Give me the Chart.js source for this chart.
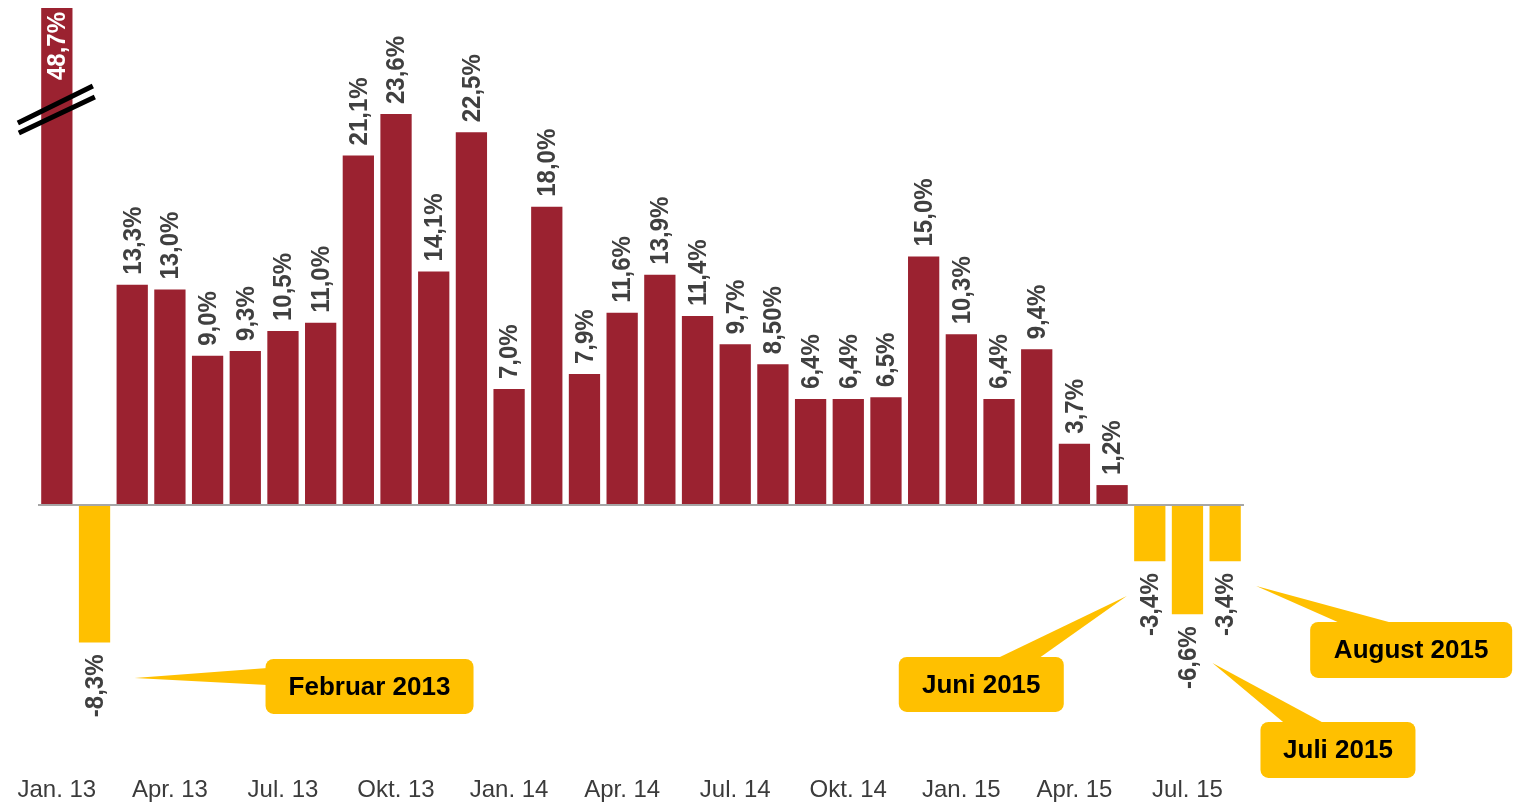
<!DOCTYPE html>
<html lang="de">
<head>
    <meta charset="UTF-8">
    <title>Veränderung zum Vorjahresmonat</title>
    <script src="https://cdn.jsdelivr.net/npm/chart.js"></script>
    <style>
        body { margin: 0; background: #fff; }
        #wrap { width: 1516px; height: 805px; }
    </style>
</head>
<body>
    <div id="wrap"><canvas id="chart" width="1516" height="805"></canvas></div>

    <script>
        // monthly categories, Jan. 13 - Aug. 15
        const months = [
            'Jan. 13', 'Feb. 13', 'Mär. 13', 'Apr. 13', 'Mai 13', 'Jun. 13', 'Jul. 13', 'Aug. 13', 'Sep. 13', 'Okt. 13', 'Nov. 13', 'Dez. 13',
            'Jan. 14', 'Feb. 14', 'Mär. 14', 'Apr. 14', 'Mai 14', 'Jun. 14', 'Jul. 14', 'Aug. 14', 'Sep. 14', 'Okt. 14', 'Nov. 14', 'Dez. 14',
            'Jan. 15', 'Feb. 15', 'Mär. 15', 'Apr. 15', 'Mai 15', 'Jun. 15', 'Jul. 15', 'Aug. 15'
        ];

        // change vs. previous year in %
        const changes = [
            48.7, -8.3, 13.3, 13.0, 9.0, 9.3, 10.5, 11.0, 21.1, 23.6, 14.1, 22.5,
            7.0, 18.0, 7.9, 11.6, 13.9, 11.4, 9.7, 8.50, 6.4, 6.4, 6.5, 15.0,
            10.3, 6.4, 9.4, 3.7, 1.2, -3.4, -6.6, -3.4
        ];

        // only every third month gets an axis label
        const tickMonths = ['Jan. 13', 'Apr. 13', 'Jul. 13', 'Okt. 13', 'Jan. 14', 'Apr. 14', 'Jul. 14', 'Okt. 14', 'Jan. 15', 'Apr. 15', 'Jul. 15'];

        // callouts for the negative months
        const calloutMonths = ['Feb. 13', 'Jun. 15', 'Jul. 15', 'Aug. 15'];
        const calloutTexts = ['Februar 2013', 'Juni 2015', 'Juli 2015', 'August 2015'];

        const valueLabels = changes.map(v => v.toFixed(1).replace('.', ',') + '%');
        valueLabels[19] = '8,50%';

        const RED = '#9b2230';
        const YELLOW = '#ffc000';
        const FONT = '"Liberation Sans", Arial, sans-serif';

        // value labels, rotated, above / below the bars
        const valueLabelPlugin = {
            id: 'valueLabels',
            afterDatasetsDraw(chart) {
                const ctx = chart.ctx;
                const area = chart.chartArea;
                const meta = chart.getDatasetMeta(0);
                ctx.save();
                ctx.font = 'bold 24px ' + FONT;
                ctx.textBaseline = 'middle';
                meta.data.forEach((bar, i) => {
                    const v = changes[i];
                    let y, align, color = '#404040';
                    if (bar.y < area.top) {
                        y = area.top + 4; align = 'right'; color = '#ffffff';
                    } else if (v >= 0) {
                        y = bar.y - 10; align = 'left';
                    } else {
                        y = bar.y + 12; align = 'right';
                    }
                    ctx.save();
                    ctx.translate(bar.x + 1, y);
                    ctx.rotate(-Math.PI / 2);
                    ctx.scale(1, 1.1);
                    ctx.textAlign = align;
                    ctx.fillStyle = color;
                    ctx.fillText(valueLabels[i], 0, 0);
                    ctx.restore();

                    // axis break marks on the clipped bar
                    if (bar.y < area.top) {
                        ctx.strokeStyle = '#000';
                        ctx.lineWidth = 5;
                        ctx.beginPath();
                        ctx.moveTo(bar.x - 39, 123); ctx.lineTo(bar.x + 36, 86);
                        ctx.moveTo(bar.x - 38, 133); ctx.lineTo(bar.x + 38, 97);
                        ctx.stroke();
                    }
                });
                // zero line
                const y0 = chart.scales.y.getPixelForValue(0);
                ctx.strokeStyle = '#a6a6a6';
                ctx.lineWidth = 2;
                ctx.beginPath();
                ctx.moveTo(area.left, y0);
                ctx.lineTo(area.right, y0);
                ctx.stroke();
                ctx.restore();
            }
        };

        // speech-bubble callouts (box offsets relative to bar centre / zero line)
        const calloutLayout = [
            { tip: [40, 173], box: [171, 154, 208, 55], base: 'left', b: [9, 26] },
            { tip: [-23, 91], box: [-251, 152, 165, 55], base: 'top', b: [97, 139] },
            { tip: [25, 158], box: [73, 217, 155, 56], base: 'top', b: [25, 65] },
            { tip: [31, 81], box: [85, 117, 202, 56], base: 'top', b: [32, 86] }
        ];

        const calloutPlugin = {
            id: 'callouts',
            afterDraw(chart) {
                const ctx = chart.ctx;
                const meta = chart.getDatasetMeta(0);
                const y0 = chart.scales.y.getPixelForValue(0);
                ctx.save();
                calloutMonths.forEach((m, k) => {
                    const bar = meta.data[months.indexOf(m)];
                    const L = calloutLayout[k];
                    const bx = bar.x + L.box[0], by = y0 + L.box[1], bw = L.box[2], bh = L.box[3];
                    const tx = bar.x + L.tip[0], ty = y0 + L.tip[1];
                    ctx.fillStyle = YELLOW;
                    ctx.beginPath();
                    ctx.roundRect(bx, by, bw, bh, 8);
                    ctx.fill();
                    ctx.beginPath();
                    ctx.moveTo(tx, ty);
                    if (L.base === 'left') {
                        ctx.lineTo(bx + 2, by + L.b[0]);
                        ctx.lineTo(bx + 2, by + L.b[1]);
                    } else {
                        ctx.lineTo(bx + L.b[0], by + 2);
                        ctx.lineTo(bx + L.b[1], by + 2);
                    }
                    ctx.closePath();
                    ctx.fill();
                    ctx.fillStyle = '#000';
                    ctx.font = 'bold 26px ' + FONT;
                    ctx.textAlign = 'center';
                    ctx.textBaseline = 'middle';
                    ctx.fillText(calloutTexts[k], bx + bw / 2, by + bh / 2 + 1);
                });
                ctx.restore();
            }
        };

        new Chart(document.getElementById('chart').getContext('2d'), {
            type: 'bar',
            data: {
                labels: months,
                datasets: [{
                    data: changes,
                    backgroundColor: changes.map(v => v < 0 ? YELLOW : RED),
                    barPercentage: 0.83,
                    categoryPercentage: 1.0
                }]
            },
            options: {
                responsive: false,
                animation: false,
                layout: { padding: { left: 38, right: 272, top: 8, bottom: 0 } },
                plugins: {
                    legend: { display: false },
                    tooltip: { enabled: false }
                },
                scales: {
                    y: {
                        display: false,
                        min: -16,
                        max: 30
                    },
                    x: {
                        grid: { display: false, drawTicks: false },
                        border: { display: false },
                        afterFit(scale) { scale.height = 35; },
                        ticks: {
                            autoSkip: false,
                            maxRotation: 0,
                            padding: 6,
                            color: '#3b3b3b',
                            font: { family: FONT, size: 24 },
                            callback: function (val, idx) {
                                const name = months[idx];
                                return tickMonths.includes(name) ? name : '';
                            }
                        }
                    }
                }
            },
            plugins: [valueLabelPlugin, calloutPlugin]
        });
    </script>
</body>
</html>
